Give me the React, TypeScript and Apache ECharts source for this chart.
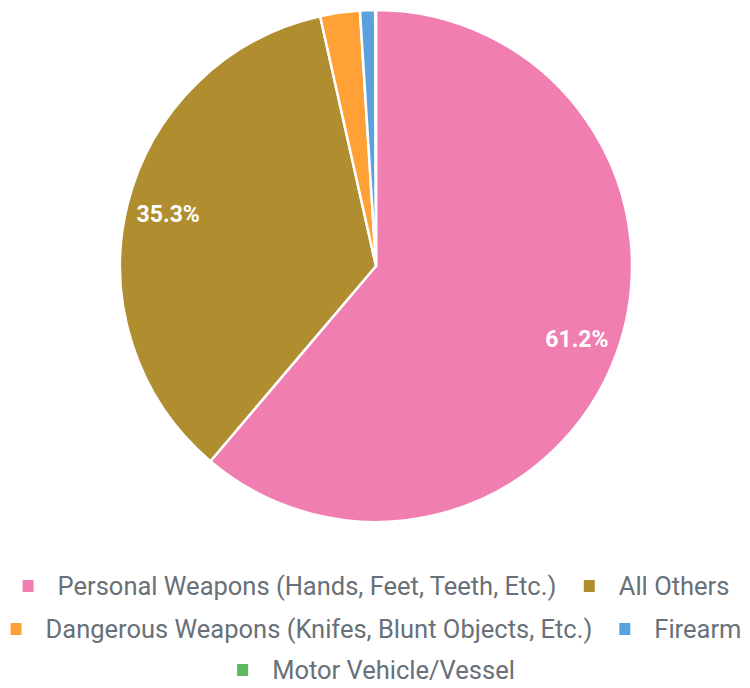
import React, { useEffect, useRef } from "react";
import * as echarts from "echarts";

const categories = [
  "Personal Weapons (Hands, Feet, Teeth, Etc.)",
  "All Others",
  "Dangerous Weapons (Knifes, Blunt Objects, Etc.)",
  "Firearm",
  "Motor Vehicle/Vessel",
];
const values = [61.2, 35.3, 2.5, 0.95, 0.05];
const colors = ["#f07eb1", "#b08e2f", "#ffa137", "#5aa2dd", "#5cb860"];
const legendRows = [
  [categories[0], categories[1]],
  [categories[2], categories[3]],
  [categories[4]],
];
const legendTops = [566, 609, 650];

export default function App() {
  const ref = useRef<HTMLDivElement>(null);
  useEffect(() => {
    document.body.style.margin = "0";
    const chart = echarts.init(ref.current!, null, { renderer: "svg" });
    const data = categories.map((name, i) => ({
      name,
      value: values[i],
      itemStyle: { color: colors[i] },
    }));
    chart.setOption({
      animation: false,
      legend: legendRows.map((row, i) => ({
        data: row,
        left: "center",
        top: legendTops[i],
        orient: "horizontal",
        icon: "rect",
        itemWidth: 13,
        itemHeight: 14,
        itemGap: 25,
        selectedMode: false,
        textStyle: {
          fontFamily: "Roboto",
          fontSize: 25.5,
          lineHeight: 30,
          color: "#687078",
          padding: [0, 0, 0, 18],
        },
      })),
      series: [
        {
          type: "pie",
          center: [376, 266],
          radius: [0, 256],
          startAngle: 90,
          clockwise: true,
          silent: true,
          label: { show: false },
          labelLine: { show: false },
          itemStyle: { borderColor: "#ffffff", borderWidth: 2.5 },
          data,
        },
        {
          type: "pie",
          center: [376, 266],
          radius: [166, 256],
          startAngle: 90,
          clockwise: true,
          silent: true,
          z: 5,
          labelLine: { show: false },
          itemStyle: { color: "rgba(0,0,0,0)", borderWidth: 0 },
          label: {
            show: true,
            position: "inside",
            color: "#ffffff",
            fontFamily: "Roboto",
            fontWeight: "bold",
            fontSize: 23,
            formatter: (p: any) => (p.value > 5 ? p.value.toFixed(1) + "%" : ""),
          },
          data: categories.map((name, i) => ({ name, value: values[i] })),
        },
      ],
    });
    return () => chart.dispose();
  }, []);
  return <div ref={ref} style={{ width: 750, height: 688 }} />;
}
